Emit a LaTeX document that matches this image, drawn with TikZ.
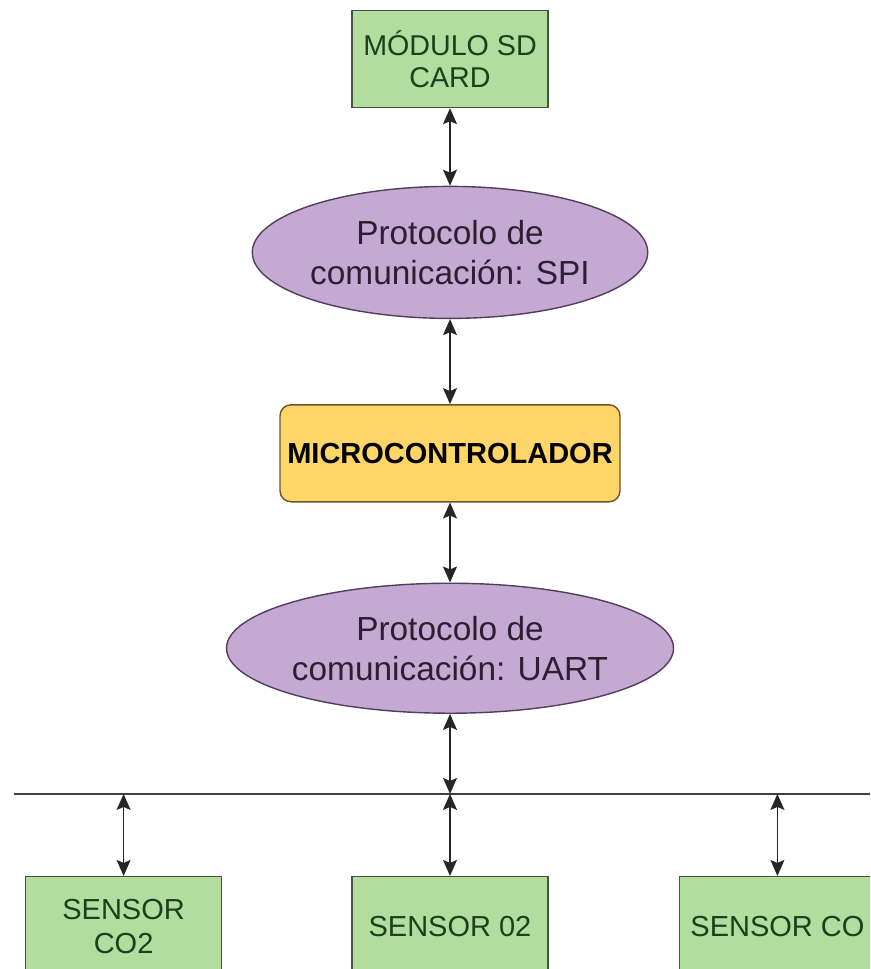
\documentclass[tikz,border=0pt]{standalone}
\usepackage{fontspec}
\setmainfont{Liberation Sans}
\usetikzlibrary{shapes.geometric, arrows.meta, positioning, calc}
\definecolor{modcolor}{RGB}{178,221,158}
\definecolor{modline}{RGB}{70,85,65}
\definecolor{modtext}{RGB}{30,62,30}
\definecolor{protcolor}{RGB}{196,170,210}
\definecolor{protline}{RGB}{85,60,95}
\definecolor{prottext}{RGB}{45,30,50}
\definecolor{mcucolor}{RGB}{254,214,104}
\definecolor{mculine}{RGB}{105,85,40}

\begin{document}
\begin{tikzpicture}[
    module/.style={rectangle, draw=modline, fill=modcolor, line width=0.8pt, text=modtext, minimum width=3.92cm, minimum height=1.94cm, align=center, inner sep=0pt, font=\fontsize{16.3}{18.5}\selectfont},
    sensor/.style={module, minimum height=2cm, font=\fontsize{16.5}{19.5}\selectfont},
    protocol/.style={ellipse, draw=protline, fill=protcolor, line width=0.8pt, text=prottext, minimum width=5.9cm, minimum height=2.64cm, align=center, inner sep=0pt, font=\fontsize{19}{22.8}\selectfont},
    mcu/.style={rectangle, rounded corners=0.22cm, draw=mculine, fill=mcucolor, line width=0.8pt, minimum width=6.8cm, minimum height=1.94cm, font=\fontsize{16.5}{19}\selectfont\bfseries},
    link/.style={<->, >={Stealth[length=3.2mm, width=2.8mm, inset=0.6mm]}, line width=0.8pt, draw=black!85},
    bus/.style={line width=0.7pt, draw=black!75}
]
\clip (0,0) rectangle (17.4,-19.38);

    % SD card and SPI
    \node[module] (sd) at (9,-1.18) {MÓDULO SD\\CARD};
    \node[protocol, below=1.55cm of sd] (spi) {Protocolo de\\comunicación: SPI};

    % Microcontroller
    \node[mcu, below=1.7cm of spi] (micro) {MICROCONTROLADOR};

    % UART
    \node[protocol, minimum width=6.16cm, minimum height=2.6cm, below=1.6cm of micro] (uart) {Protocolo de\\comunicación: UART};

    % Bus
    \coordinate[below=1.6cm of uart] (busmid);
    \coordinate (busL) at (0.27,0 |- busmid);
    \coordinate (busR) at (17.4,0 |- busmid);
    \draw[bus] (busL) -- (busR);

    % Sensors
    \node[sensor, below=1.64cm of busmid] (so2) {SENSOR 02};
    \node[sensor, left=2.58cm of so2] (sco2) {SENSOR\\CO2};
    \node[sensor, right=2.6cm of so2] (sco) {SENSOR CO};

    \coordinate (b1) at (sco2.north |- busmid);
    \coordinate (b3) at (sco.north |- busmid);

    % Links
    \draw[link] (sd) -- (spi);
    \draw[link] (spi) -- (micro);
    \draw[link] (micro) -- (uart);
    \draw[link] (uart) -- (busmid);
    \draw[link] (busmid) -- (so2);
    \draw[link] (b1) -- (sco2);
    \draw[link] (b3) -- (sco);

\end{tikzpicture}
\end{document}
